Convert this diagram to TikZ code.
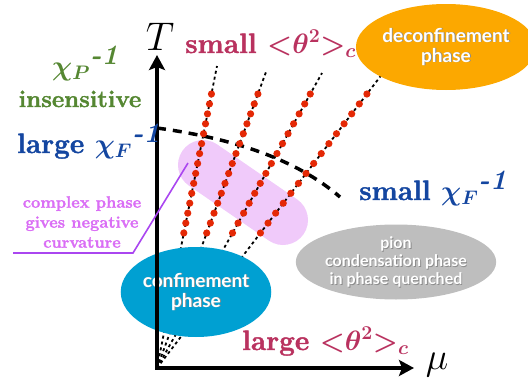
\RequirePackage{fix-cm}
\documentclass[tikz,border=0pt]{standalone}
\usepackage{fontspec}
\usepackage{bm}
\setmainfont{Latin Modern Roman}[BoldFeatures={FakeBold=1.6}]
\newfontfamily\phasefont{Lato}
\usetikzlibrary{shapes.geometric,arrows.meta}
\definecolor{thetared}{RGB}{185,50,95}
\definecolor{pgreen}{RGB}{85,135,50}
\definecolor{fblue}{RGB}{20,70,160}
\definecolor{bandpink}{RGB}{240,202,250}
\definecolor{pointerviolet}{RGB}{170,70,240}
\definecolor{complexpink}{RGB}{218,110,245}
\definecolor{dotred}{RGB}{228,40,5}
\definecolor{deconforange}{RGB}{252,168,0}
\definecolor{confblue}{RGB}{0,160,210}
\definecolor{piongray}{RGB}{190,190,190}
% white label text with a small drop shadow
\newcommand{\shtext}[1]{\makebox[0pt][l]{\hspace{0.9pt}\raisebox{-0.9pt}{\textcolor{black!45}{#1}}}#1}
\begin{document}
\begin{tikzpicture}[x=1pt,y=-1pt,
  lab/.style={font=\fontsize{28}{30}\selectfont\bfseries,inner sep=0pt},
  phase/.style={ellipse,inner sep=0pt,text=white,align=center,
    font=\phasefont\fontsize{19}{20}\selectfont\bfseries},
  axis/.style={line width=3.5pt,line join=miter,
    {Stealth[length=15pt,width=16pt,inset=3pt]}-{Stealth[length=15pt,width=16pt,inset=3pt]}},
  ray/.style={line width=1.8pt,dash pattern=on 3pt off 3pt},
  crossover/.style={line width=3.5pt,dash pattern=on 9pt off 7pt},
  band/.style={line width=50pt,line cap=round,color=bandpink},
  reddot/.style={fill=dotred},
  pointer/.style={line width=1.6pt,color=pointerviolet}]
\useasboundingbox (0,0) rectangle (528,383);
\coordinate (O) at (157,368);
% complex phase region
\coordinate (bandA) at (203,165);
\coordinate (bandB) at (283,220);
\draw[band] (bandA) -- (bandB);
% rays of constant mu/T
\foreach \ex/\ey [count=\i] in {217/66,266/72,322/73,383/73}{
  \coordinate (r\i) at (\ex,\ey);
  \draw[ray] (O) -- (r\i);
}
% chi_F crossover
\coordinate (cxA) at (157,128);
\coordinate (cxB) at (340,197);
\draw[crossover] (cxA) .. controls (230,138) and (295,158) .. (cxB);
% dots on the rays
\foreach \ex/\ey in {217/66,266/72,322/73,383/73}
  \foreach \k in {0,...,14}{
    \pgfmathsetmacro\yy{94+\k*139/14}
    \pgfmathsetmacro\ff{(368-\yy)/(368-\ey)}
    \pgfmathsetmacro\xx{157+(\ex-157)*\ff}
    \fill[reddot] (\xx,\yy) circle (3.6pt);
  }
% phases
\node[phase,fill=deconforange,minimum width=144pt,minimum height=86pt] (deconf) at (446,47) {\shtext{deconfinement}\\\shtext{phase}};
\node[phase,fill=confblue,minimum width=124pt,minimum height=90pt] (conf) at (196,292) {\shtext{confinement}\\\shtext{phase}};
\node[phase,fill=piongray,minimum width=200pt,minimum height=75pt,
  font=\phasefont\fontsize{16}{18}\selectfont\bfseries] (pion) at (396,262) {\shtext{pion}\\\shtext{condensation phase}\\\shtext{in phase quenched}};
% axes
\draw[axis] (157,55) |- (414,368);
\node[inner sep=0pt,anchor=base,font=\fontsize{40}{40}\selectfont] (tlab) at (160,50) {$T$};
\node[inner sep=0pt,anchor=base,font=\fontsize{38}{38}\selectfont] (mulab) at (437,369) {$\mu$};
% labels
\node[lab,text=thetared,anchor=base west] (smallth) at (185,53) {small $\bm{\mathord{<}\theta^2\mathord{>}_c}$};
\node[lab,text=thetared,anchor=base west] (largeth) at (242,350) {large $\bm{\mathord{<}\theta^2\mathord{>}_c}$};
\node[lab,text=pgreen,anchor=base west] (chip) at (52,75) {${\bm\chi_{\bm P}}^{\textbf{\textit{-1}}}$};
\node[lab,text=pgreen,anchor=base,font=\fontsize{24}{26}\selectfont\bfseries] (insens) at (80,107) {insensitive};
\node[lab,text=fblue,anchor=base west] (largechi) at (17,153) {large ${\bm\chi_{\bm F}}^{\textbf{\textit{-1}}}$};
\node[lab,text=fblue,anchor=base west] (smallchi) at (359,200) {small ${\bm\chi_{\bm F}}^{\textbf{\textit{-1}}}$};
\node[inner sep=0pt,text=complexpink,align=center,font=\fontsize{16.5}{20}\selectfont\bfseries] (complex) at (82,222) {complex phase\\gives negative\\curvature};
\coordinate (cpA) at (13,253);
\coordinate (cpB) at (133,253);
\coordinate (cpC) at (188,163);
\draw[pointer] (cpA) -- (cpB) -- (cpC);
\end{tikzpicture}
\end{document}
